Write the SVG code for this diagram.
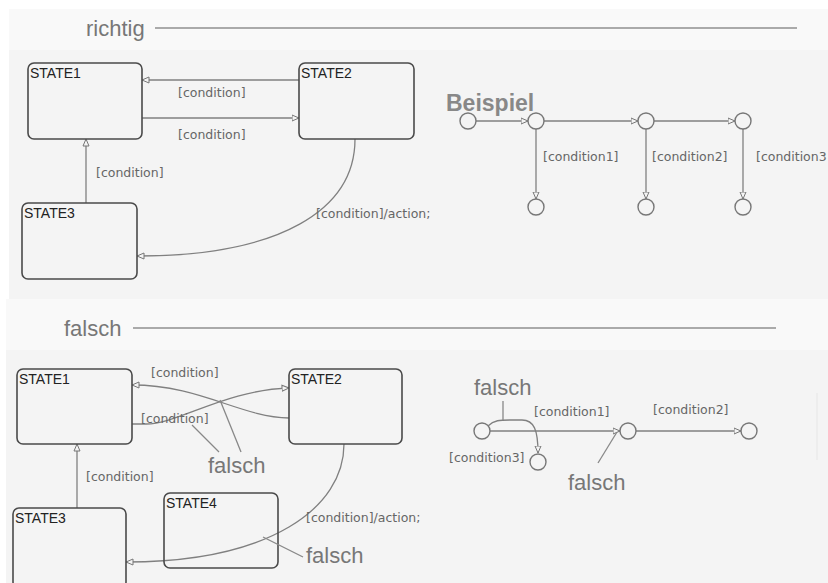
<svg xmlns="http://www.w3.org/2000/svg" width="828" height="583" viewBox="0 0 828 583">
<defs>
<marker id="arr" viewBox="0 0 8 8" refX="7.5" refY="4" markerWidth="8" markerHeight="8" markerUnits="userSpaceOnUse" orient="auto">
<path d="M0.5,1 L7.5,4 L0.5,7 Z" fill="#f4f4f4" stroke="#777" stroke-width="1"/>
</marker>
<style>
.bg1{fill:#f9f9f9}
.bg2{fill:#f4f4f4}
.state{fill:#f4f4f4;stroke:#4a4a4a;stroke-width:1.6}
.sname{font-family:"Liberation Sans",Arial,sans-serif;font-size:14px;fill:#222}
.lbl{font-family:"DejaVu Sans",sans-serif;font-size:12.5px;fill:#666}
.big{font-family:"Liberation Sans",Arial,sans-serif;font-size:22px;fill:#777}
.hline{stroke:#aaa;stroke-width:2;fill:none}
.conn{stroke:#808080;stroke-width:1.3;fill:none}
.arrow{marker-end:url(#arr)}
.lead{stroke:#888;stroke-width:1.3;fill:none}
.junc{fill:#f4f4f4;stroke:#777;stroke-width:1.4}
</style>
</defs>
<rect width="828" height="583" fill="#ffffff"/>
<rect class="bg1" x="9" y="9" width="819" height="41"/>
<rect class="bg2" x="9" y="50" width="819" height="249"/>
<rect class="bg1" x="6" y="299" width="822" height="51"/>
<rect class="bg2" x="6" y="350" width="822" height="233"/>

<g id="header-richtig">
<text class="big" x="86" y="36">richtig</text>
<line class="hline" x1="155" y1="28" x2="797" y2="28"/>
</g>
<g id="header-falsch">
<text class="big" x="64" y="336">falsch</text>
<line class="hline" x1="133" y1="328" x2="776" y2="328"/>
</g>

<g id="connectors">
<line class="conn arrow" x1="299" y1="80" x2="142" y2="80"/>
<line class="conn arrow" x1="142" y1="118" x2="299" y2="118"/>
<line class="conn arrow" x1="86" y1="203" x2="86" y2="139"/>
<path class="conn arrow" d="M355,139 C355,210 280,256 137,256"/>
<line class="conn arrow" x1="476" y1="121" x2="528" y2="121"/>
<line class="conn arrow" x1="544" y1="121" x2="638" y2="121"/>
<line class="conn arrow" x1="654" y1="121" x2="735" y2="121"/>
<line class="conn arrow" x1="536" y1="129" x2="536" y2="199"/>
<line class="conn arrow" x1="646" y1="129" x2="646" y2="199"/>
<line class="conn arrow" x1="743" y1="129" x2="743" y2="199"/>
<line class="conn arrow" x1="77" y1="508" x2="77" y2="444"/>
<path class="conn arrow" d="M289,418 C240,417 200,385 132,385"/>
<path class="conn arrow" d="M132,424 L146,424 C178,424 225,390 289,388"/>
<path class="conn arrow" d="M344,444 C344,508 270,562 126,562"/>
<line class="conn arrow" x1="490" y1="431" x2="620" y2="431"/>
<line class="conn arrow" x1="636" y1="431" x2="741" y2="431"/>
<path class="conn arrow" d="M488,426 C494,420 500,420 510,420 L522,420 C534,420 538,430 538,453"/>
</g>

<g id="top-STATE1"><rect class="state" x="28" y="63" width="114" height="76" rx="6"/><text class="sname" x="30" y="78">STATE1</text></g>
<g id="top-STATE2"><rect class="state" x="299" y="63" width="115" height="76" rx="6"/><text class="sname" x="301" y="78">STATE2</text></g>
<g id="top-STATE3"><rect class="state" x="22" y="203" width="115" height="76" rx="6"/><text class="sname" x="24" y="218">STATE3</text></g>

<g id="top-labels">
<text class="lbl" x="178" y="97">[condition]</text>
<text class="lbl" x="178" y="139">[condition]</text>
<text class="lbl" x="96" y="177">[condition]</text>
<text class="lbl" x="316" y="218">[condition]/action;</text>
</g>

<g id="beispiel">
<text x="446" y="111" font-family="Liberation Sans,Arial,sans-serif" font-size="23" font-weight="bold" fill="#888">Beispiel</text>
<circle class="junc" cx="468" cy="121" r="8"/>
<circle class="junc" cx="536" cy="121" r="8"/>
<circle class="junc" cx="646" cy="121" r="8"/>
<circle class="junc" cx="743" cy="121" r="8"/>
<circle class="junc" cx="536" cy="207" r="8"/>
<circle class="junc" cx="646" cy="207" r="8"/>
<circle class="junc" cx="743" cy="207" r="8"/>
<text class="lbl" x="543" y="161">[condition1]</text>
<text class="lbl" x="652" y="161">[condition2]</text>
<text class="lbl" x="756" y="161">[condition3</text>
</g>

<g id="bot-STATE1"><rect class="state" x="17" y="369" width="115" height="75" rx="6"/><text class="sname" x="19" y="384">STATE1</text></g>
<g id="bot-STATE2"><rect class="state" x="289" y="369" width="113" height="75" rx="6"/><text class="sname" x="291" y="384">STATE2</text></g>
<g id="bot-STATE3"><rect class="state" x="13" y="508" width="113" height="80" rx="6"/><text class="sname" x="15" y="523">STATE3</text></g>
<g id="bot-STATE4"><rect class="state" x="164" y="493" width="114" height="75" rx="6" style="fill:none"/><text class="sname" x="166" y="508">STATE4</text></g>

<g id="bottom-labels">
<text class="lbl" x="151" y="377">[condition]</text>
<text class="lbl" x="141" y="423">[condition]</text>
<text class="lbl" x="86" y="481">[condition]</text>
<text class="lbl" x="306" y="522">[condition]/action;</text>
<text class="lbl" x="534" y="416">[condition1]</text>
<text class="lbl" x="653" y="414">[condition2]</text>
<text class="lbl" x="449" y="462">[condition3]</text>
</g>

<g id="bottom-right-junctions">
<circle class="junc" cx="482" cy="431" r="8"/>
<circle class="junc" cx="628" cy="431" r="8"/>
<circle class="junc" cx="749" cy="431" r="8"/>
<circle class="junc" cx="538" cy="462" r="8"/>
</g>

<g id="annotations">
<line class="lead" x1="192" y1="425" x2="219" y2="452"/>
<line class="lead" x1="220" y1="400" x2="241" y2="452"/>
<text class="big" x="208" y="473">falsch</text>
<line class="lead" x1="263" y1="537" x2="303" y2="557"/>
<text class="big" x="306" y="563">falsch</text>
<line class="lead" x1="503" y1="401" x2="503" y2="420"/>
<text class="big" x="474" y="395">falsch</text>
<line class="lead" x1="598" y1="463" x2="617" y2="432"/>
<text class="big" x="568" y="490">falsch</text>
<line x1="817" y1="393" x2="817" y2="460" stroke="#e6e6e6" stroke-width="1"/>
</g>
</svg>
